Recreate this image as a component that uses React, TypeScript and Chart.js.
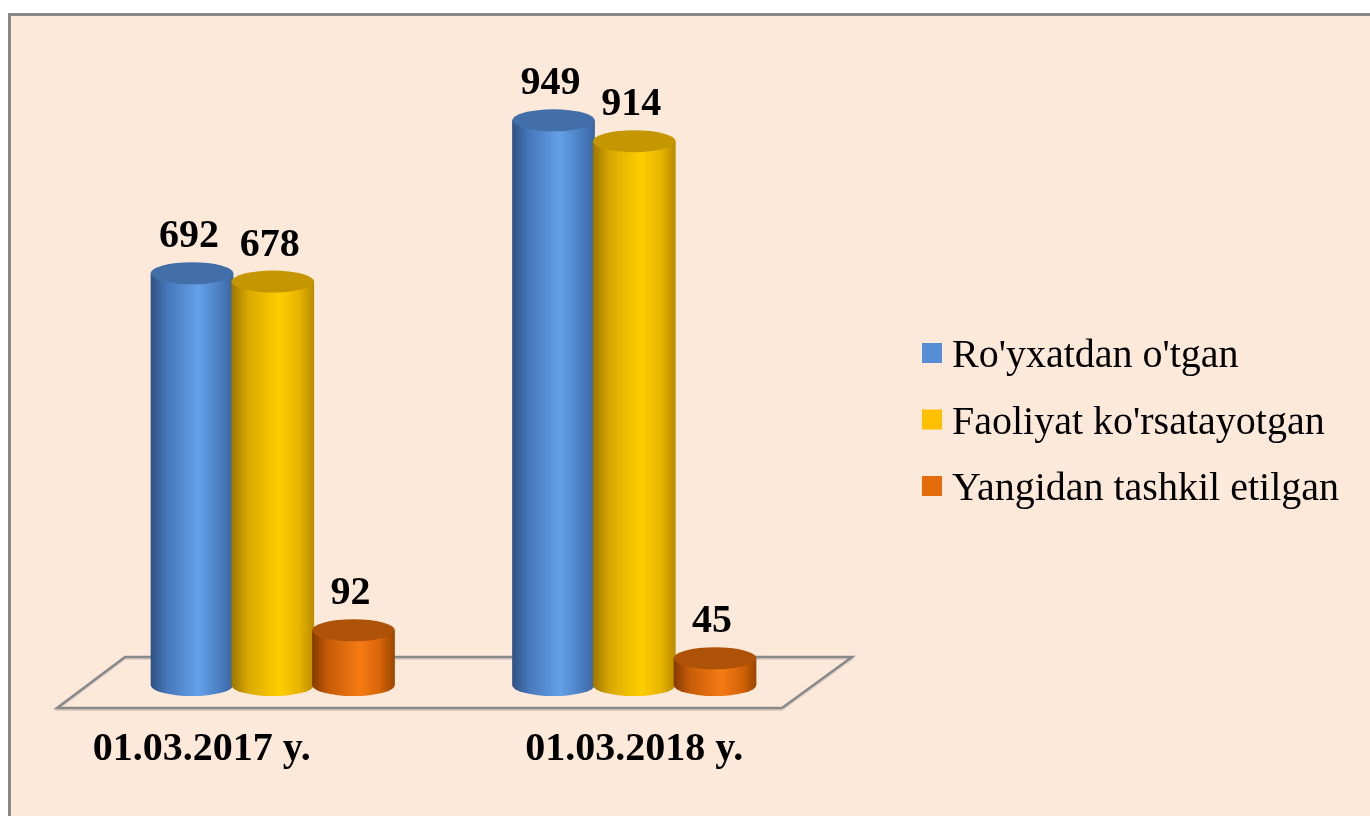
import React, { useEffect, useRef } from "react";
import { Chart, registerables } from "chart.js";

Chart.register(...registerables);

// ---- data ----
const categories = ["01.03.2017 y.", "01.03.2018 y."];
const seriesNames = ["Ro'yxatdan o'tgan", "Faoliyat ko'rsatayotgan", "Yangidan tashkil etilgan"];
const registeredValues = [692, 949];
const activeValues = [678, 914];
const newValues = [92, 45];

// ---- styles ----
const legendColors = ["#558ED5", "#FFC000", "#E46C0A"];
const sideStops = [
  ["#2E5283", "#4777BA", "#64A0E8", "#4C80C4", "#3A64A0"],
  ["#9C7500", "#D8A800", "#FFCE00", "#E8B400", "#B88C00"],
  ["#843A00", "#C85C08", "#F57B14", "#D66408", "#9A4600"],
];
const topColors = ["#426FA8", "#C49600", "#AE5208"];
const BG = "#FDE9DA";
const GRAY = "#898989";
const SERIF = "'Liberation Serif', 'Times New Roman', serif";
const categoryLabelShift = [-71, 0];

const cylinderPlugin = {
  id: "cylinders",
  beforeDraw(chart: any) {
    const { ctx, width, height, chartArea } = chart;
    ctx.save();
    ctx.fillStyle = "#FFFFFF";
    ctx.fillRect(0, 0, width, height);
    ctx.fillStyle = BG;
    ctx.fillRect(8, 13, width - 8, height - 13);
    ctx.fillStyle = GRAY;
    ctx.fillRect(8, 13, width - 8, 3);
    ctx.fillRect(8, 13, 3, height - 13);

    // floor
    const base = chart.scales.y.getPixelForValue(0);
    const l = chartArea.left;
    const r = chartArea.right;
    const fl = [l - 35, base + 23];
    const bl = [l + 33, base - 28];
    const br = [r + 37, base - 28];
    const fr = [r - 33, base + 23];
    const drawFloor = (dy: number, color: string, w: number) => {
      ctx.strokeStyle = color;
      ctx.lineWidth = w;
      ctx.beginPath();
      ctx.moveTo(fr[0], fr[1] + dy);
      ctx.lineTo(fl[0], fl[1] + dy);
      ctx.lineTo(bl[0], bl[1] + dy);
      ctx.lineTo(br[0], br[1] + dy);
      ctx.lineTo(fr[0], fr[1] + dy);
      ctx.stroke();
    };
    drawFloor(2, "rgba(160,160,160,0.35)", 2);
    drawFloor(0, GRAY, 2.5);
    ctx.restore();
  },
  afterDatasetsDraw(chart: any) {
    const { ctx } = chart;
    const ry = 11;
    ctx.save();
    const nCat = chart.data.labels.length;
    for (let c = 0; c < nCat; c++) {
      chart.data.datasets.forEach((ds: any, di: number) => {
        const meta = chart.getDatasetMeta(di);
        const bar: any = meta.data[c];
        if (!bar) return;
        const { x, y, base, width } = bar.getProps(["x", "y", "base", "width"], true);
        const rx = width / 2 + 1;
        const grad = ctx.createLinearGradient(x - rx, 0, x + rx, 0);
        const stops = sideStops[di];
        const pos = [0, 0.2, 0.58, 0.82, 1];
        stops.forEach((col, i) => grad.addColorStop(pos[i], col));
        // side
        ctx.beginPath();
        ctx.moveTo(x - rx, y);
        ctx.lineTo(x - rx, base);
        ctx.ellipse(x, base, rx, ry, 0, Math.PI, 0, true);
        ctx.lineTo(x + rx, y);
        ctx.closePath();
        ctx.fillStyle = grad;
        ctx.fill();
        // top
        ctx.beginPath();
        ctx.ellipse(x, y, rx, ry, 0, 0, Math.PI * 2);
        ctx.fillStyle = topColors[di];
        ctx.fill();
      });
    }
    // value labels
    ctx.fillStyle = "#000";
    ctx.font = `bold 40px ${SERIF}`;
    ctx.textAlign = "center";
    ctx.textBaseline = "alphabetic";
    chart.data.datasets.forEach((ds: any, di: number) => {
      const meta = chart.getDatasetMeta(di);
      meta.data.forEach((bar: any, i: number) => {
        const { x, y } = bar.getProps(["x", "y"], true);
        ctx.fillText(String(ds.data[i]), x - 3, y - 26);
      });
    });
    ctx.restore();
  },
  afterDraw(chart: any) {
    const { ctx, chartArea } = chart;
    ctx.save();
    // category labels
    const xs = chart.scales.x;
    const base = chart.scales.y.getPixelForValue(0);
    ctx.fillStyle = "#000";
    ctx.font = `bold 40px ${SERIF}`;
    ctx.textAlign = "center";
    ctx.textBaseline = "alphabetic";
    chart.data.labels.forEach((lab: string, i: number) => {
      ctx.fillText(lab, xs.getPixelForValue(i) + categoryLabelShift[i], base + 75);
    });
    // legend
    ctx.font = `40px ${SERIF}`;
    ctx.textAlign = "left";
    const lx = chartArea.right + 107;
    chart.data.datasets.forEach((ds: any, i: number) => {
      const yc = 353 + i * 66.5;
      ctx.fillStyle = legendColors[i];
      ctx.fillRect(lx, yc - 10, 20, 20);
      ctx.fillStyle = "#000";
      ctx.fillText(ds.label, lx + 30, yc + 14);
    });
    ctx.restore();
  },
};

export default function App() {
  const ref = useRef<HTMLCanvasElement | null>(null);
  useEffect(() => {
    document.body.style.margin = "0";
    if (!ref.current) return;
    const seriesValues = [registeredValues, activeValues, newValues];
    const chart = new Chart(ref.current, {
      type: "bar",
      data: {
        labels: categories,
        datasets: seriesNames.map((name, i) => ({
          label: name,
          data: seriesValues[i],
          backgroundColor: "rgba(0,0,0,0)",
          borderWidth: 0,
          categoryPercentage: 0.67,
          barPercentage: 1,
        })),
      },
      options: {
        responsive: false,
        animation: false,
        devicePixelRatio: 1,
        layout: { padding: { left: 92, right: 555, top: 90, bottom: 131 } },
        plugins: { legend: { display: false }, tooltip: { enabled: false } },
        scales: {
          x: { display: false },
          y: { display: false, min: 0, max: 1000 },
        },
      },
      plugins: [cylinderPlugin],
    });
    return () => chart.destroy();
  }, []);
  return (
    <canvas ref={ref} width={1370} height={816} style={{ display: "block", width: 1370, height: 816 }} />
  );
}
